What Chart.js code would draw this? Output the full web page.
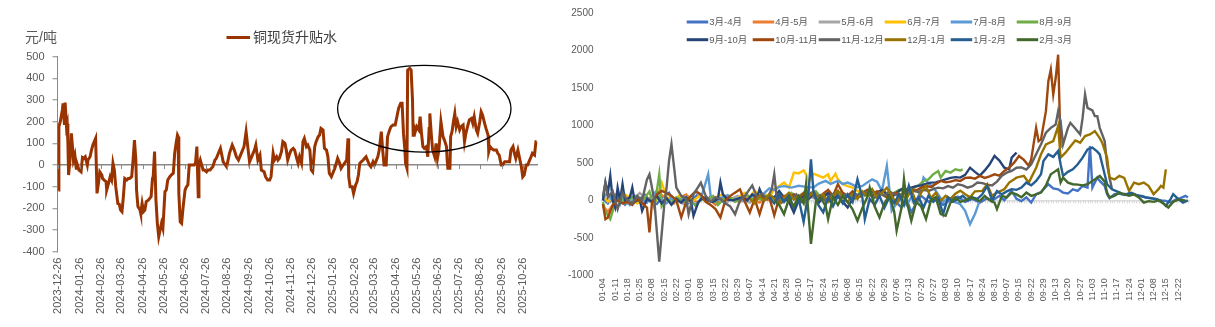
<!DOCTYPE html>
<html>
<head>
<meta charset="utf-8">
<script src="https://cdn.jsdelivr.net/npm/chart.js@4.4.1/dist/chart.umd.min.js"></script>
<style>
  html, body { margin: 0; padding: 0; background: #fff; width: 1215px; height: 327px; overflow: hidden; }
  #left { position: absolute; left: 0; top: 0; }
  #right { position: absolute; left: 555px; top: 0; }
</style>
</head>
<body>
<canvas id="left" width="552" height="327"></canvas>
<canvas id="right" width="660" height="327"></canvas>
<script>
// ---- left chart: 铜现货升贴水 (元/吨), x = calendar days since 2023-12-26 ----
const leftTickLabels = ['2023-12-26', '2024-01-26', '2024-02-26', '2024-03-26', '2024-04-26', '2024-05-26',
  '2024-06-26', '2024-07-26', '2024-08-26', '2024-09-26', '2024-10-26', '2024-11-26', '2024-12-26',
  '2025-01-26', '2025-02-26', '2025-03-26', '2025-04-26', '2025-05-26', '2025-06-26', '2025-07-26',
  '2025-08-26', '2025-09-26', '2025-10-26'];
const leftYTicks = [-400, -300, -200, -100, 0, 100, 200, 300, 400, 500];

const leftDays = [0, 1, 3, 6, 7, 9, 10, 12, 13, 14, 15, 17, 19, 21, 22, 24, 26, 27, 30, 33, 35, 37, 39, 42, 43, 46, 48, 50, 54,
  56, 58, 60, 63, 64, 66, 69, 70, 72, 75, 77, 79, 81, 83, 86, 88, 90, 92, 94, 96, 99, 101, 103, 106, 108, 110, 112, 113,
  115, 118, 119, 121, 123, 125, 127, 130, 132, 134, 136, 137, 139, 141, 143, 145, 147, 149, 151, 154, 156, 158, 161, 163,
  166, 168, 170, 172, 173, 174, 176, 178, 180, 183, 185, 187, 189, 191, 194, 196, 198, 200, 202, 203, 205, 207, 209, 211,
  214, 216, 219, 221, 223, 226, 228, 230, 234, 238, 243, 247, 251, 254, 257, 260, 264, 268, 271, 274, 276, 279, 283, 285,
  288, 291, 293, 297, 299, 302, 305, 307, 310, 312, 315, 317, 319, 322, 324, 327, 329, 331, 334, 336, 339, 341, 344, 346,
  348, 351, 353, 355, 358, 360, 363, 365, 367, 370, 372, 375, 377, 379, 382, 384, 387, 389, 391, 394, 396, 399, 401, 403,
  406, 408, 411, 413, 416, 418, 419, 421, 424, 426, 429, 431, 433, 435, 437, 440, 442, 444, 447, 449, 451, 454, 456, 459,
  461, 463, 466, 468, 470, 473, 475, 478, 480, 483, 486, 489, 491, 494, 496, 498, 500, 501, 503, 504, 507, 509, 511, 512,
  513, 515, 517, 520, 522, 524, 526, 528, 531, 533, 535, 536, 538, 540, 543, 545, 547, 549, 550, 552, 555, 557, 560, 561,
  562, 565, 566, 568, 570, 572, 574, 576, 579, 581, 584, 586, 588, 591, 593, 596, 598, 600, 603, 605, 608, 610, 612, 615,
  617, 620, 621, 623, 625, 628, 632, 634, 636, 639, 641, 644, 649, 651, 653, 656, 658, 660, 663, 665, 668, 670, 672, 675,
  677, 680, 682, 684, 687, 689, 690];
const leftValues = [-115, 177, 200, 254, 285, 185, 288, 177, 190, 100, -46, 23, 146, 69, 23, 46, -15, 8, -23, -31, 35, 31, 38, 0, 23, 38, 69, 92, 123,
  -131, -85, -31, -46, -62, -69, -77, -115, -92, -54, -69, 8, -23, -100, -177, -180, -208, -215, -146, -62, -69, -62, -62, -54, 23, 115, 23, -115,
  -192, -208, -223, -177, -215, -208, -169, -162, -154, -146, -62, -54, 62, -162, -269, -331, -300, -269, -292, -123, -115, -69, -54, -46,
  -38, 54, 100, 138, 131, -131, -262, -269, -200, -115, -100, -92, 0, 0, 0, 0, 8, 85, -146, 0, 23, 0, -23, -23,
  -31, -23, -23, -15, -8, 23, 30, 46, 77, 15, -8, 54, 92, 69, 38, 23, 54, 85, 154, 69, 15, 38, 69, 92,
  23, 46, -23, -31, -54, -69, -69, -54, 54, 23, 38, 23, 31, 62, 108, 100, 69, 23, 54, 69, 77, 69, 31, 8,
  38, 8, 108, 123, 85, 92, 69, -23, -31, 85, 108, 131, 138, 169, 162, 77, 69, 38, -38, -54, -38, -15, 8, 31,
  8, -15, 0, 8, 23, 123, -54, -100, -100, -131, -92, -77, -46, 8, 15, 23, 31, 38, 15, 0, -8, 15, 0, 23,
  38, 69, 154, 69, 0, 0, 131, 162, 177, 185, 185, 231, 262, 285, 285, 146, 69, 8, -15, 438, 446, 438, 300, 138,
  177, 154, 177, 162, 223, 146, 85, 77, 85, 38, 169, 238, 146, 69, 38, 100, 31, 69, 108, 200, 131, 115, 85, 23,
  -15, -15, 131, 154, 200, 238, 177, 200, 162, 177, 185, 108, 146, 185, 208, 215, 192, 223, 162, 146, 200, 246, 231, 192,
  169, 138, 62, 85, 77, 69, 69, 54, 46, 0, 0, 15, 15, 15, 69, 85, 54, 31, 69, 38, -8, -54, -46, 0,
  0, 23, 38, 54, 46, 108, 108];

// ---- right chart: 月间价差季节图 ----
const rightTickLabels = ['01-04', '01-11', '01-18', '01-25', '02-08', '02-15', '02-22', '03-01', '03-08', '03-15', '03-22', '03-29',
  '04-07', '04-14', '04-21', '04-28', '05-10', '05-17', '05-24', '05-31', '06-08', '06-15', '06-22', '06-29', '07-06', '07-13',
  '07-20', '07-27', '08-03', '08-10', '08-17', '08-24', '08-31', '09-07', '09-15', '09-22', '09-29', '10-13', '10-20', '10-27',
  '11-03', '11-10', '11-17', '11-24', '12-01', '12-08', '12-15', '12-22'];
const rightYTicks = [-1000, -500, 0, 500, 1000, 1500, 2000, 2500];
const seriesNames = ['3月-4月', '4月-5月', '5月-6月', '6月-7月', '7月-8月', '8月-9月',
  '9月-10月', '10月-11月', '11月-12月', '12月-1月', '1月-2月', '2月-3月'];
const seriesColors = ['#4472C4', '#ED7D31', '#A5A5A5', '#FFC000', '#5B9BD5', '#70AD47',
  '#264478', '#9E480E', '#636363', '#997300', '#255E91', '#43682B'];

// [trading-day index, value]
const s34 = [[0,20],[2,-40],[4,60],[7,10],[9,-60],[12,40],[14,-20],[17,80],[19,0],[22,-50],[24,30],[27,100],[29,-20],[32,40],
  [34,-60],[37,20],[39,90],[42,-10],[44,50],[47,-30],[48,10],[49,null],[118,40],[120,-30],[122,-95],[124,20],[126,-160],[128,-40],
  [130,60],[133,-20],[136,40],[139,-60],[142,10],[145,50],[148,-20],[151,20],[154,-30],[157,30],[159,-7],[162,60],[164,0],[167,126],
  [169,20],[171,-10],[173,40],[175,-29],[177,82],[179,110],[182,215],[184,160],[186,148],[188,104],[190,91],[192,148],[194,126],
  [196,193],[198,170],[199,725],[200,170],[201,237],[202,303],[203,259],[205,193],[206,82],[207,29],[209,82],[211,91],[213,73],
  [215,91],[217,80],[219,60],[222,38],[225,20],[228,0],[230,-7],[232,-29],[234,10],[236,29],[238,60],[239,38]];
const s45 = [[0,-80],[2,-150],[4,-60],[6,40],[9,-20],[11,60],[14,0],[16,-50],[19,30],[21,-10],[24,70],[26,20],[29,-40],[31,30],
  [34,80],[36,10],[39,-30],[41,40],[44,0],[46,-60],[49,20],[51,60],[54,0],[56,-20],[59,40],[61,10],[64,-30],[66,20],[68,0]];
const s56 = [[0,50],[3,-20],[5,80],[8,20],[10,-40],[13,30],[15,100],[18,10],[20,-30],[23,40],[25,-10],[28,60],[30,0],[33,-50],
  [35,20],[38,130],[40,30],[43,-20],[45,50],[48,0],[50,-40],[53,30],[55,60],[58,0],[60,-30],[63,40],[65,10],[68,60],[70,20],
  [73,-20],[75,40],[78,80],[80,30],[83,-10],[85,40],[88,10]];
const s67 = [[0,60],[2,-20],[4,40],[7,-10],[9,80],[12,20],[14,-40],[17,30],[19,0],[21,-60],[24,237],[26,40],[29,-20],[31,60],
  [34,10],[36,-30],[39,50],[41,20],[44,-10],[46,40],[49,80],[51,30],[54,0],[56,60],[58,100],[60,40],[62,130],[64,60],[66,90],
  [68,40],[70,150],[72,193],[74,237],[76,170],[78,370],[80,360],[82,401],[83,348],[84,237],[86,356],[88,330],[90,304],[92,348],
  [93,259],[95,356],[96,280],[98,215],[100,190],[102,170],[104,126],[106,90],[108,104]];
const s78 = [[0,40],[2,100],[4,-20],[6,60],[9,20],[11,-60],[13,40],[16,10],[18,-30],[20,60],[22,130],[24,20],[26,-40],[28,30],
  [31,-10],[33,50],[35,0],[38,-60],[40,20],[43,348],[44,60],[46,-20],[48,30],[51,70],[53,0],[56,40],[58,-20],[60,30],[62,60],
  [64,20],[66,100],[68,160],[70,140],[72,180],[74,190],[77,170],[80,195],[83,180],[86,170],[88,220],[91,259],[93,220],[96,259],
  [98,220],[100,237],[102,210],[104,175],[106,193],[108,237],[110,281],[112,250],[114,126],[116,459],[118,-140],[120,-40],
  [122,20],[124,-60],[126,40],[128,-20],[130,150],[131,303],[133,230],[135,170],[137,80],[139,-20],[141,30],[143,-10],[146,-51],
  [148,-140],[150,-317],[152,-184],[154,0]];
const s89 = [[0,-20],[1,-150],[3,-250],[5,-30],[7,40],[9,-40],[11,20],[13,60],[15,-20],[17,30],[19,120],[21,-100],[23,348],
  [24,-80],[26,20],[28,-30],[30,40],[33,-20],[35,30],[38,-80],[40,20],[42,0],[45,60],[47,-60],[49,10],[52,40],[54,-20],[57,30],
  [59,70],[61,20],[63,40],[65,0],[67,60],[69,30],[71,60],[73,-20],[75,50],[77,100],[79,20],[81,80],[83,-30],[85,60],[87,120],
  [89,40],[91,90],[93,20],[95,70],[97,110],[99,40],[101,80],[103,20],[105,100],[107,60],[109,120],[111,30],[113,80],[115,120],
  [117,60],[119,100],[121,140],[123,120],[125,170],[127,160],[129,200],[131,259],[133,280],[135,348],[137,392],[138,304],
  [140,392],[142,370],[144,414],[146,400],[147,414]];
const s910 = [[0,0],[1,237],[2,100],[3,326],[4,0],[5,-95],[6,170],[7,0],[8,215],[9,0],[11,40],[12,170],[13,-20],[15,20],[16,-140],
  [18,20],[20,-20],[22,60],[24,-40],[26,30],[28,-60],[30,20],[32,-30],[34,40],[36,-20],[37,-206],[39,-20],[41,40],[43,0],
  [45,-20],[47,20],[48,237],[49,80],[51,10],[53,0],[55,20],[57,40],[59,0],[61,80],[63,40],[64,148],[66,0],[68,60],[70,40],
  [72,126],[74,40],[76,-20],[78,-162],[80,0],[82,60],[84,20],[86,80],[88,-40],[90,40],[92,100],[94,20],[96,60],[98,-20],
  [100,-95],[102,20],[104,60],[106,104],[108,60],[110,120],[112,100],[114,140],[116,80],[118,40],[120,100],[122,150],[124,140],
  [126,170],[128,190],[130,200],[132,220],[134,237],[136,240],[138,260],[140,280],[142,300],[144,310],[146,304],[148,340],
  [150,436],[152,380],[154,330],[156,400],[158,481],[160,592],[162,530],[164,436],[166,414],[167,570],[169,636]];
const s1011 = [[0,-50],[1,-250],[2,-228],[4,-60],[6,0],[8,-40],[10,-20],[12,-60],[14,20],[16,-30],[18,-100],[19,-428],[20,-40],
  [22,82],[24,126],[26,100],[28,60],[30,0],[32,-228],[34,-20],[36,60],[38,120],[40,80],[42,-20],[44,-60],[46,-117],[48,-228],
  [50,0],[52,60],[55,126],[56,148],[58,-20],[60,-162],[62,20],[64,-184],[66,30],[68,40],[70,-200],[72,30],[74,60],[76,0],
  [78,80],[80,20],[82,100],[84,40],[86,120],[88,30],[90,90],[92,140],[94,60],[96,215],[98,100],[100,60],[102,120],[104,40],
  [106,100],[108,140],[110,60],[112,120],[114,80],[116,40],[118,82],[120,100],[122,60],[124,120],[126,148],[128,130],[130,170],
  [132,192],[134,180],[136,220],[138,259],[140,240],[142,250],[144,270],[146,259],[148,300],[150,304],[152,290],[154,326],
  [156,300],[158,320],[160,348],[162,330],[164,392],[166,436],[168,503],[170,592],[172,540],[174,459],[175,547],[177,968],
  [178,791],[179,814],[181,1190],[182,1589],[183,1744],[184,1412],[185,1632],[186,1944],[187,700]];
const s1112 = [[0,60],[1,237],[2,40],[4,120],[6,-117],[8,104],[10,0],[12,-40],[14,60],[16,0],[18,281],[19,348],[21,0],[23,-818],
  [25,-80],[26,170],[27,525],[28,747],[30,170],[32,60],[34,20],[35,-184],[37,80],[40,237],[42,60],[44,-20],[46,40],[48,20],
  [50,-40],[52,-80],[54,-184],[56,0],[58,60],[61,200],[63,40],[65,90],[67,20],[69,150],[70,348],[71,40],[73,-30],[75,60],
  [77,20],[79,80],[81,-20],[83,40],[85,100],[87,30],[89,70],[91,-10],[93,60],[95,110],[97,40],[99,80],[101,20],[103,90],
  [105,50],[107,120],[109,70],[111,40],[113,100],[115,60],[117,120],[119,80],[121,60],[123,100],[125,90],[127,126],[129,110],
  [131,140],[133,126],[135,150],[137,170],[139,160],[141,190],[143,170],[145,215],[147,200],[149,170],[151,190],[153,237],
  [155,230],[157,210],[159,200],[161,250],[163,330],[165,370],[167,392],[169,436],[171,440],[173,410],[175,480],[177,614],
  [179,747],[181,902],[183,968],[185,1013],[186,1190],[187,1057],[188,746],[190,968],[191,1035],[193,960],[195,880],[196,1100],
  [197,1412],[198,1234],[200,1200],[201,1124],[202,1124],[203,968],[204,880],[205,791],[206,481],[207,303],[208,150]];
const s121 = [[60,20],[62,-40],[64,60],[66,0],[68,80],[70,20],[72,-50],[74,40],[76,100],[78,10],[80,60],[82,-30],[84,50],
  [86,120],[88,20],[90,80],[92,-20],[94,60],[96,130],[98,40],[100,-30],[102,80],[104,20],[106,120],[108,60],[110,150],[112,40],
  [114,100],[116,170],[118,60],[120,-40],[122,80],[124,20],[126,140],[128,-20],[130,100],[132,193],[134,30],[136,100],[138,-10],
  [140,60],[142,20],[144,90],[146,130],[148,82],[150,40],[152,120],[155,126],[157,215],[159,60],[161,104],[164,148],[166,237],
  [169,303],[172,326],[174,237],[177,436],[179,614],[181,746],[184,791],[186,991],[187,570],[189,636],[191,720],[193,800],
  [195,770],[197,857],[199,880],[201,924],[203,830],[204,769],[206,570],[207,303],[209,280],[211,326],[213,300],[215,126],
  [217,237],[219,215],[221,237],[223,190],[225,82],[227,150],[228,193],[229,170],[230,414]];
const s12 = [[68,40],[70,-40],[72,80],[74,-20],[76,60],[78,-100],[80,20],[82,-286],[84,100],[85,548],[86,120],[88,-60],[90,-160],
  [92,40],[94,-80],[96,60],[98,-40],[100,80],[102,-20],[104,282],[106,40],[107,-250],[109,20],[111,-60],[113,60],[115,-100],
  [117,40],[119,-40],[121,80],[123,-60],[125,193],[127,-30],[129,40],[131,-95],[133,60],[135,-20],[137,30],[139,-184],[141,40],
  [143,-20],[145,20],[147,60],[149,0],[151,40],[153,20],[155,80],[157,193],[159,0],[161,126],[163,80],[165,120],[167,150],
  [169,140],[171,170],[173,237],[175,200],[177,260],[179,348],[180,525],[182,614],[184,580],[186,658],[187,481],[188,326],
  [190,380],[192,414],[194,481],[196,570],[198,680],[200,703],[202,650],[203,614],[204,481],[205,348],[206,215],[208,148],
  [210,120],[212,90],[214,82],[216,100],[218,70],[220,60],[222,38],[224,30],[226,20],[228,-7],[230,-73],[232,20],[233,82],
  [235,20],[237,-30],[239,0]];
const s23 = [[70,0],[72,-60],[74,-184],[76,20],[78,-80],[80,60],[82,-40],[83,215],[85,-582],[87,-20],[89,40],[91,-80],[92,-250],
  [94,40],[96,-60],[98,60],[100,-20],[102,-120],[104,-272],[106,-100],[108,40],[109,170],[111,-80],[113,-228],[115,-40],
  [117,60],[119,-150],[120,-405],[122,-100],[123,282],[124,0],[126,-273],[128,-20],[130,-80],[132,-250],[134,0],[136,40],
  [138,-184],[140,-206],[142,-30],[144,40],[146,-20],[148,0],[150,40],[152,20],[154,-10],[156,60],[158,0],[160,-30],[161,-117],
  [163,60],[165,40],[167,104],[169,80],[171,40],[173,104],[175,60],[177,80],[179,104],[181,200],[183,348],[184,370],[186,414],
  [187,237],[188,303],[190,237],[192,215],[194,210],[196,200],[198,215],[200,259],[202,303],[203,326],[205,250],[206,104],
  [207,38],[209,60],[211,104],[213,80],[215,60],[217,80],[219,40],[221,-29],[223,-10],[225,-20],[227,0],[229,-40],[231,-95],
  [233,-20],[235,10],[238,0]];
const seriesData = [s34, s45, s56, s67, s78, s89, s910, s1011, s1112, s121, s12, s23];

const FONT = '"Liberation Sans", Arial, "Noto Sans CJK SC", sans-serif';
const TEXT = '#595959';

const t0 = Date.UTC(2023, 11, 26);
function dayOf(s) {
  const p = s.split('-').map(Number);
  return Math.round((Date.UTC(p[0], p[1] - 1, p[2]) - t0) / 864e5);
}

// small tick marks on the zero line, ellipse, unit label and legend
const leftDecor = {
  id: 'leftDecor',
  afterDraw(chart) {
    const { ctx, scales: { x, y } } = chart;
    const y0 = y.getPixelForValue(0);
    ctx.save();
    ctx.strokeStyle = '#898989';
    ctx.lineWidth = 1;
    leftTickLabels.forEach(l => {
      const px = Math.round(x.getPixelForValue(dayOf(l))) + 0.5;
      ctx.beginPath(); ctx.moveTo(px, y0); ctx.lineTo(px, y0 + 4); ctx.stroke();
    });

    // highlighted region (2025-05 ~ 2025-08)
    const cx = x.getPixelForValue(528), cy = y.getPixelForValue(260);
    const rx = x.getPixelForValue(528 + 125) - cx, ry = cy - y.getPixelForValue(460);
    ctx.strokeStyle = '#000';
    ctx.lineWidth = 1.3;
    ctx.beginPath(); ctx.ellipse(cx, cy, rx, ry, 0, 0, Math.PI * 2); ctx.stroke();

    ctx.fillStyle = TEXT;
    ctx.font = '14px ' + FONT;
    ctx.textBaseline = 'middle';
    ctx.textAlign = 'left';
    ctx.fillText('元/吨', 25, 38);

    ctx.strokeStyle = '#993300';
    ctx.lineWidth = 3;
    ctx.beginPath(); ctx.moveTo(226.5, 37.5); ctx.lineTo(250, 37.5); ctx.stroke();
    ctx.fillStyle = '#404040';
    ctx.fillText('铜现货升贴水', 253, 38);
    ctx.restore();
  }
};

new Chart(document.getElementById('left'), {
  type: 'line',
  data: {
    datasets: [{
      label: '铜现货升贴水',
      data: leftDays.map((d, i) => ({ x: d, y: leftValues[i] })),
      borderColor: '#993300',
      borderWidth: 3,
      pointRadius: 0,
      tension: 0
    }]
  },
  options: {
    responsive: false,
    animation: false,
    layout: { padding: { top: 56.7, right: 14, bottom: 0, left: 0 } },
    plugins: { legend: { display: false }, tooltip: { enabled: false } },
    scales: {
      x: {
        type: 'linear', min: -1, max: 692,
        afterBuildTicks: s => { s.ticks = leftTickLabels.map(l => ({ value: dayOf(l) })); },
        afterFit: s => { s.height = 75.3; },
        grid: { display: false, drawTicks: false },
        border: { display: false },
        ticks: {
          autoSkip: false, minRotation: 90, maxRotation: 90, padding: 6, color: TEXT,
          font: { size: 11, family: FONT },
          callback: (v, i) => leftTickLabels[i]
        }
      },
      y: {
        min: -400, max: 500,
        afterBuildTicks: s => { s.ticks = leftYTicks.map(v => ({ value: v })); },
        afterFit: s => { s.width = 57.5; },
        grid: {
          color: c => (c.tick && c.tick.value === 0) ? '#898989' : 'rgba(0,0,0,0)',
          lineWidth: 1.5, tickColor: '#898989', tickLength: 5, tickWidth: 1
        },
        border: { display: true, color: '#898989', width: 1 },
        ticks: { padding: 8, color: TEXT, font: { size: 11, family: FONT }, callback: v => String(v) }
      }
    }
  },
  plugins: [leftDecor]
});

// category tick marks on the zero line and the two-row legend
const rightDecor = {
  id: 'rightDecor',
  beforeDatasetsDraw(chart) {
    const { ctx, scales: { x, y } } = chart;
    const y0 = y.getPixelForValue(0);
    ctx.save();
    ctx.strokeStyle = '#D9D9D9';
    ctx.lineWidth = 1;
    for (let i = 0; i < 240; i++) {
      const px = Math.round(x.getPixelForValue(i)) + 0.5;
      ctx.beginPath(); ctx.moveTo(px, y0); ctx.lineTo(px, y0 + 3); ctx.stroke();
    }
    ctx.restore();
  },
  afterDraw(chart) {
    const ctx = chart.ctx;
    ctx.save();
    ctx.font = '9.5px ' + FONT;
    ctx.textBaseline = 'middle';
    ctx.textAlign = 'left';
    seriesNames.forEach((name, k) => {
      const col = k % 6, row = Math.floor(k / 6);
      const lx = 131.7 + col * 66, ly = row === 0 ? 22 : 39.7;
      ctx.strokeStyle = seriesColors[k];
      ctx.lineWidth = 3;
      ctx.beginPath(); ctx.moveTo(lx, ly); ctx.lineTo(lx + 21.5, ly); ctx.stroke();
      ctx.fillStyle = TEXT;
      ctx.fillText(name, lx + 22.5, ly + 0.5);
    });
    ctx.restore();
  }
};

new Chart(document.getElementById('right'), {
  type: 'line',
  data: {
    datasets: seriesNames.map((name, k) => ({
      label: name,
      data: seriesData[k].map(p => ({ x: p[0], y: p[1] })),
      borderColor: seriesColors[k],
      borderWidth: 2.4,
      pointRadius: 0,
      tension: 0,
      order: 12 - k
    }))
  },
  options: {
    responsive: false,
    animation: false,
    layout: { padding: { top: 12.7, right: 24.7, bottom: 0, left: 0 } },
    plugins: { legend: { display: false }, tooltip: { enabled: false } },
    scales: {
      x: {
        type: 'linear', min: -1, max: 240,
        afterBuildTicks: s => { s.ticks = rightTickLabels.map((l, k) => ({ value: k * 5 })); },
        afterFit: s => { s.height = 51.7; },
        grid: { display: false, drawTicks: false },
        border: { display: false },
        ticks: {
          autoSkip: false, minRotation: 90, maxRotation: 90, padding: 3, color: TEXT,
          font: { size: 9, family: FONT },
          callback: (v, i) => rightTickLabels[i]
        }
      },
      y: {
        min: -1000, max: 2500,
        afterBuildTicks: s => { s.ticks = rightYTicks.map(v => ({ value: v })); },
        afterFit: s => { s.width = 45.5; },
        grid: {
          drawTicks: false,
          color: c => (c.tick && c.tick.value === 0) ? '#D9D9D9' : 'rgba(0,0,0,0)',
          lineWidth: 1.5
        },
        border: { display: false },
        ticks: { padding: 7, color: TEXT, font: { size: 10, family: FONT }, callback: v => String(v) }
      }
    }
  },
  plugins: [rightDecor]
});
</script>
</body>
</html>
